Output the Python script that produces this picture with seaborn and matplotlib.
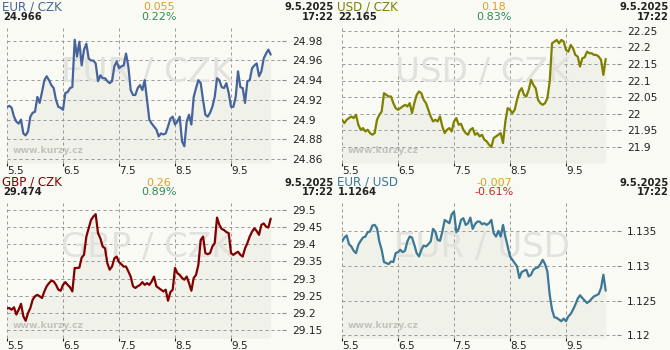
import numpy as np
import pandas as pd
import matplotlib
matplotlib.use("Agg")
import matplotlib.pyplot as plt
import matplotlib.transforms as mtransforms
import seaborn as sns

# ---------------- data ----------------
day_labels = ["5.5", "6.5", "7.5", "8.5", "9.5"]
date_text = "9.5.2025"
time_text = "17:22"
timestamps = pd.date_range("2025-05-05 00:00", "2025-05-09 17:00", freq="h")

pairs = ["EUR / CZK", "USD / CZK", "GBP / CZK", "EUR / USD"]
last_values = ["24.966", "22.165", "29.474", "1.1264"]
changes = ["0.055", "0.18", "0.26", "-0.007"]
pct_changes = ["0.22%", "0.83%", "0.89%", "-0.61%"]

eur_czk = [24.913, 24.914, 24.912, 24.903, 24.898, 24.896, 24.900, 24.886, 24.884, 24.888,
           24.903, 24.907, 24.908, 24.923, 24.917, 24.928, 24.940, 24.944, 24.940, 24.935,
           24.932, 24.920, 24.913, 24.912, 24.910, 24.927, 24.928, 24.932, 24.933, 24.981,
           24.964, 24.979, 24.955, 24.971, 24.977, 24.962, 24.960, 24.960, 24.957, 24.939,
           24.945, 24.942, 24.942, 24.939, 24.937, 24.939, 24.954, 24.959, 24.952, 24.954,
           24.955, 24.967, 24.954, 24.930, 24.925, 24.925, 24.932, 24.935, 24.930, 24.940,
           24.920, 24.900, 24.896, 24.893, 24.890, 24.883, 24.886, 24.885, 24.886, 24.893,
           24.901, 24.903, 24.895, 24.898, 24.903, 24.878, 24.873, 24.898, 24.905, 24.895,
           24.923, 24.932, 24.940, 24.937, 24.920, 24.905, 24.903, 24.907, 24.913, 24.923,
           24.942, 24.940, 24.933, 24.932, 24.937, 24.927, 24.913, 24.913, 24.923, 24.949,
           24.933, 24.932, 24.917, 24.939, 24.940, 24.952, 24.955, 24.957, 24.944, 24.949,
           24.962, 24.967, 24.971, 24.966]

usd_czk = [21.982, 21.972, 21.982, 21.987, 21.992, 21.987, 21.997, 21.967, 21.952, 21.957,
           21.947, 21.952, 21.942, 21.937, 21.942, 21.982, 21.997, 22.007, 22.062, 22.057,
           22.052, 22.052, 22.032, 22.017, 22.012, 22.017, 22.022, 22.027, 22.022, 22.032,
           22.002, 22.032, 22.057, 22.067, 22.062, 22.042, 22.032, 22.012, 21.992, 21.977,
           21.982, 21.977, 21.992, 21.962, 21.942, 21.952, 21.957, 21.947, 21.977, 21.987,
           21.967, 21.970, 21.952, 21.942, 21.937, 21.952, 21.957, 21.937, 21.942, 21.932,
           21.937, 21.922, 21.917, 21.907, 21.900, 21.927, 21.932, 21.937, 21.942, 21.912,
           21.977, 22.017, 22.012, 22.002, 22.012, 22.042, 22.067, 22.077, 22.057, 22.052,
           22.072, 22.102, 22.087, 22.077, 22.042, 22.032, 22.027, 22.032, 22.047, 22.097,
           22.212, 22.217, 22.222, 22.212, 22.222, 22.217, 22.192, 22.187, 22.207, 22.197,
           22.177, 22.172, 22.142, 22.167, 22.170, 22.187, 22.182, 22.182, 22.177, 22.177,
           22.172, 22.162, 22.117, 22.165]

gbp_czk = [29.213, 29.215, 29.210, 29.217, 29.196, 29.210, 29.227, 29.191, 29.178, 29.200,
           29.215, 29.239, 29.249, 29.253, 29.249, 29.244, 29.263, 29.278, 29.287, 29.294,
           29.292, 29.282, 29.268, 29.265, 29.282, 29.290, 29.282, 29.275, 29.263, 29.331,
           29.331, 29.332, 29.361, 29.369, 29.422, 29.446, 29.470, 29.480, 29.487, 29.432,
           29.417, 29.393, 29.388, 29.345, 29.326, 29.335, 29.359, 29.364, 29.348, 29.342,
           29.335, 29.335, 29.321, 29.306, 29.278, 29.273, 29.278, 29.282, 29.290, 29.282,
           29.287, 29.282, 29.292, 29.306, 29.278, 29.273, 29.268, 29.263, 29.268, 29.236,
           29.261, 29.268, 29.331, 29.316, 29.311, 29.302, 29.297, 29.306, 29.287, 29.265,
           29.302, 29.311, 29.340, 29.412, 29.422, 29.374, 29.371, 29.374, 29.393, 29.403,
           29.477, 29.456, 29.444, 29.441, 29.435, 29.432, 29.374, 29.369, 29.374, 29.378,
           29.369, 29.364, 29.388, 29.403, 29.422, 29.436, 29.446, 29.438, 29.427, 29.456,
           29.460, 29.451, 29.448, 29.474]

eur_usd = [1.13351, 1.13409, 1.13438, 1.13313, 1.13280, 1.13217, 1.13184, 1.13304, 1.13361, 1.13409,
           1.13423, 1.13486, 1.13495, 1.13581, 1.13591, 1.13543, 1.13351, 1.13232, 1.13055, 1.13040,
           1.13026, 1.13064, 1.13055, 1.13184, 1.13198, 1.13232, 1.13198, 1.13217, 1.13351, 1.13423,
           1.13409, 1.13304, 1.13184, 1.13136, 1.13232, 1.13294, 1.13280, 1.13313, 1.13351, 1.13534,
           1.13495, 1.13375, 1.13361, 1.13495, 1.13663, 1.13639, 1.13615, 1.13744, 1.13783, 1.13486,
           1.13534, 1.13663, 1.13687, 1.13591, 1.13615, 1.13696, 1.13534, 1.13601, 1.13639, 1.13639,
           1.13601, 1.13615, 1.13591, 1.13615, 1.13663, 1.13471, 1.13423, 1.13505, 1.13423, 1.13591,
           1.13423, 1.13280, 1.13136, 1.13088, 1.13040, 1.12992, 1.12825, 1.12911, 1.12930, 1.12944,
           1.12849, 1.12873, 1.12944, 1.12968, 1.12978, 1.13026, 1.13088, 1.13026, 1.12920, 1.12585,
           1.12370, 1.12259, 1.12250, 1.12226, 1.12202, 1.12240, 1.12202, 1.12274, 1.12307, 1.12370,
           1.12441, 1.12528, 1.12576, 1.12537, 1.12499, 1.12465, 1.12489, 1.12528, 1.12561, 1.12576,
           1.12595, 1.12681, 1.12873, 1.12643]

y_ticks = [
    [24.86, 24.88, 24.90, 24.92, 24.94, 24.96, 24.98],
    [21.90, 21.95, 22.00, 22.05, 22.10, 22.15, 22.20, 22.25],
    [29.15, 29.20, 29.25, 29.30, 29.35, 29.40, 29.45, 29.50],
    [1.120, 1.125, 1.130, 1.135],
]
y_ranges = [(24.856, 24.996), (21.852, 22.267), (29.128, 29.528), (1.1196, 1.1395)]
series = [eur_czk, usd_czk, gbp_czk, eur_usd]

# ---------------- style ----------------
line_colors = ["#46649b", "#808000", "#800000", "#3b7896"]
change_color = "#dba21f"
pct_colors = ["#2e8b5a", "#2e8b5a", "#2e8b5a", "#c0282a"]
bg = "#fafaf5"
fill_c = "#f0f1e8"

sns.set_theme(style="white")
plt.rcParams["font.family"] = ["DejaVu Sans"]

W, H = 670, 350
fig = plt.figure(figsize=(W / 100, H / 100), dpi=100, facecolor=bg)
offsets = [(0, 0), (335, 0), (0, 175), (335, 175)]

x = ((timestamps - timestamps[0]) / pd.Timedelta(days=1)).to_numpy()


def fx(px):
    return px / W


def fy(py):
    return 1 - py / H


shift = mtransforms.ScaledTranslation(3 / 100, 0, fig.dpi_scale_trans)

for i, (ox, oy) in enumerate(offsets):
    ax = fig.add_axes([fx(ox + 7), fy(oy + 163), 275 / W, 138 / H])
    ax.set_facecolor(bg)
    y0, y1 = y_ranges[i]
    vals = np.array(series[i])

    ax.fill_between(x, vals, y0, color=fill_c, linewidth=0, zorder=0.2)
    sns.lineplot(x=x, y=vals, ax=ax, color=line_colors[i], linewidth=1.6, zorder=3)

    # watermark and site name, under the line
    ax.text(fx(ox + 147.5), fy(oy + 82), pairs[i], ha="center", va="baseline",
            fontsize=24.5, color="#e1e1dd", zorder=1, transform=fig.transFigure)
    ax.text(fx(ox + 13), fy(oy + 152.7), "www.kurzy.cz", ha="left", va="baseline",
            fontsize=6.7, color="#c2c2c2", fontweight="bold", zorder=1,
            transform=fig.transFigure)

    ax.set_xlim(0, 4.91)
    ax.set_ylim(y0, y1)
    ax.set_axisbelow(True)
    ax.grid(True, color="#9a9a9a", linestyle=(0, (3, 3)), linewidth=0.72)
    for s in ax.spines.values():
        s.set_visible(False)

    ax.set_xticks(range(len(day_labels)))
    ax.set_xticklabels(day_labels, ha="left")
    for lab in ax.get_xticklabels():
        lab.set_transform(lab.get_transform() + shift)
    ax.tick_params(axis="x", bottom=True, direction="out", length=2.2, width=0.8,
                   color="#222222", pad=0.3, labelsize=7.5, labelcolor="#222222")

    ax.yaxis.tick_right()
    ax.set_yticks(y_ticks[i])
    ax.set_yticklabels([f"{v:g}" for v in y_ticks[i]])
    ax.tick_params(axis="y", right=True, left=False, direction="out", length=3,
                   width=0.8, color="#888888", pad=4, labelsize=7.7, labelcolor="#222222")
    ax.set_xlabel("")
    ax.set_ylabel("")

    # header
    fig.text(fx(ox + 2), fy(oy + 10.5), pairs[i], ha="left", va="baseline",
             fontsize=8.6, color=line_colors[i])
    fig.text(fx(ox + 3), fy(oy + 20), last_values[i], ha="left", va="baseline",
             fontsize=7.2, color="#222222", fontweight="bold")
    fig.text(fx(ox + 159), fy(oy + 10.5), changes[i], ha="center", va="baseline",
             fontsize=8, color=change_color)
    fig.text(fx(ox + 159), fy(oy + 20), pct_changes[i], ha="center", va="baseline",
             fontsize=8, color=pct_colors[i])
    fig.text(fx(ox + 333.5), fy(oy + 10.5), date_text, ha="right", va="baseline",
             fontsize=7.2, color="#222222", fontweight="bold")
    fig.text(fx(ox + 333.5), fy(oy + 20), time_text, ha="right", va="baseline",
             fontsize=7.2, color="#222222", fontweight="bold")

fig.savefig("out.png", dpi=100, facecolor=bg)
